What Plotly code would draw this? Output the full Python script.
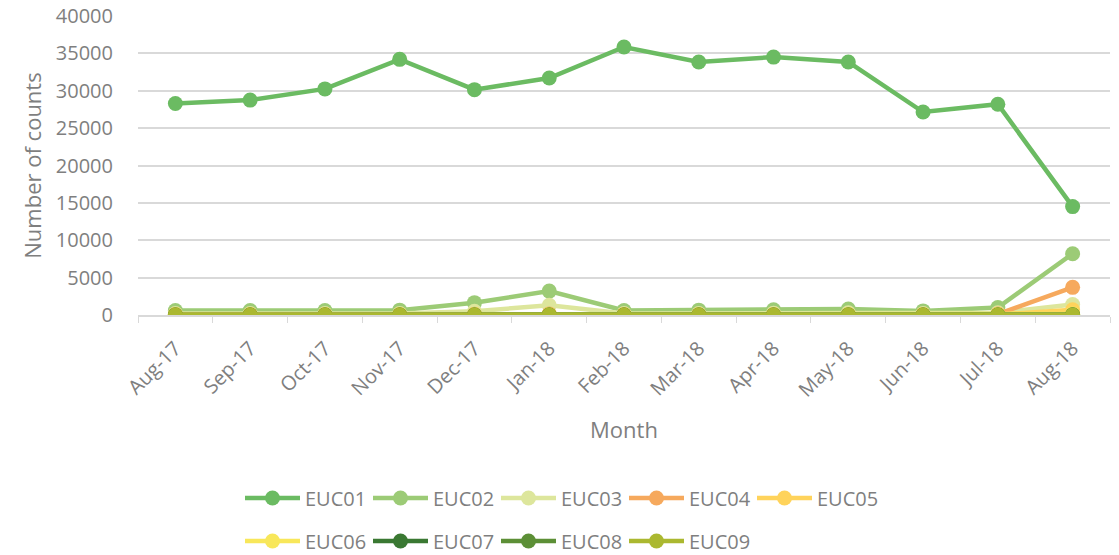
import plotly.graph_objects as go

months = ["Aug-17", "Sep-17", "Oct-17", "Nov-17", "Dec-17", "Jan-18", "Feb-18",
          "Mar-18", "Apr-18", "May-18", "Jun-18", "Jul-18", "Aug-18"]

euc01 = [28300, 28750, 30250, 34200, 30150, 31700, 35850, 33850, 34500, 33850, 27150, 28200, 14500]
euc02 = [600, 600, 600, 650, 1650, 3200, 600, 650, 700, 800, 550, 1000, 8200]
euc03 = [200, 200, 200, 200, 500, 1300, 200, 200, 250, 300, 200, 300, 1400]
euc04 = [80, 80, 80, 80, 100, 150, 80, 80, 80, 80, 80, 120, 3700]
euc05 = [40, 40, 40, 40, 60, 80, 40, 40, 40, 40, 40, 60, 700]
euc06 = [20, 20, 20, 20, 20, 30, 20, 20, 20, 20, 20, 20, 150]
euc07 = [0, 0, 0, 0, 0, 0, 0, 0, 0, 0, 0, 0, 0]
euc08 = [10, 10, 10, 10, 10, 10, 10, 10, 10, 10, 10, 10, 40]
euc09 = [0, 0, 0, 0, 0, 0, 0, 0, 0, 0, 0, 0, 0]

series = [
    ("EUC01", euc01, "#6BBB62", "legend"),
    ("EUC02", euc02, "#9CCB76", "legend"),
    ("EUC03", euc03, "#DDE69C", "legend"),
    ("EUC04", euc04, "#F6A95D", "legend"),
    ("EUC05", euc05, "#FFD35B", "legend"),
    ("EUC06", euc06, "#F8E75A", "legend2"),
    ("EUC07", euc07, "#3A7832", "legend2"),
    ("EUC08", euc08, "#5C8F36", "legend2"),
    ("EUC09", euc09, "#ABB830", "legend2"),
]

FONT = "Open Sans"
GRAY = "#7F7F7F"
W, H = 1119, 555

fig = go.Figure()
for name, vals, color, leg in series:
    fig.add_trace(go.Scatter(
        x=months, y=vals, name=name, mode="lines+markers",
        line=dict(color=color, width=4.5),
        marker=dict(color=color, size=15),
        legend=leg,
    ))

legend_style = dict(
    orientation="h", xanchor="left", yanchor="middle",
    xref="container", yref="container",
    font=dict(family=FONT, size=20, color=GRAY),
    itemwidth=55, tracegroupgap=0, entrywidth=58, entrywidthmode="pixels",
    bgcolor="rgba(0,0,0,0)",
)

fig.update_layout(
    width=W, height=H,
    margin=dict(l=138, r=9, t=16, b=240, autoexpand=False),
    paper_bgcolor="white", plot_bgcolor="white",
    font=dict(family=FONT, color=GRAY),
    showlegend=True,
    legend=dict(x=240 / W, y=1 - 498 / H, **legend_style),
    legend2=dict(x=240 / W, y=1 - 541 / H, **legend_style),
    xaxis=dict(
        type="category", tickangle=-45, tickson="boundaries",
        ticks="outside", ticklen=6, tickcolor="#D9D9D9",
        showline=True, linecolor="#D9D9D9", linewidth=1.5,
        showgrid=False, tickfont=dict(family=FONT, size=20, color=GRAY),
        ticklabelstandoff=12,
        title=dict(text="Month", font=dict(family=FONT, size=22, color=GRAY), standoff=21),
        range=[-0.5, 12.5], automargin=False,
    ),
    yaxis=dict(
        range=[0, 40000], dtick=5000, tickformat="d",
        showgrid=True, gridcolor="#D9D9D9", gridwidth=1.5,
        zeroline=False, showline=False,
        tickfont=dict(family=FONT, size=20, color=GRAY),
        ticklabelstandoff=24, automargin=False,
        title=dict(text="Number of counts", font=dict(family=FONT, size=22, color=GRAY), standoff=8),
    ),
)

fig.write_html("out.html")
